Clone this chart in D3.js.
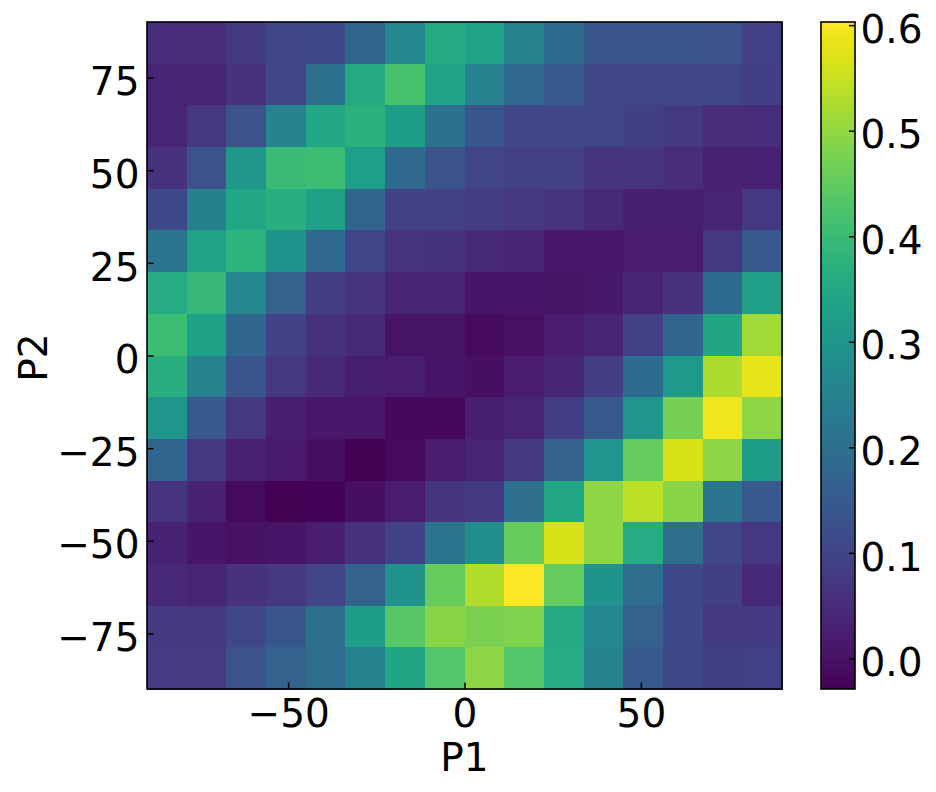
<!DOCTYPE html>
<html>
<head>
<meta charset="utf-8">
<script src="https://cdn.jsdelivr.net/npm/d3@7"></script>
<style>
  html, body { margin: 0; padding: 0; background: #fff; }
  svg { display: block; }
  text { font-family: "DejaVu Sans", sans-serif; fill: #000; }
</style>
</head>
<body>
<svg id="chart" width="936" height="792"></svg>
<script>
// Bin edges (P1 across, P2 up)
const p1Edges = [-90, -78.75, -67.5, -56.25, -45, -33.75, -22.5, -11.25, 0, 11.25, 22.5, 33.75, 45, 56.25, 67.5, 78.75, 90];
const p2Edges = [-90, -78.75, -67.5, -56.25, -45, -33.75, -22.5, -11.25, 0, 11.25, 22.5, 33.75, 45, 56.25, 67.5, 78.75, 90];

// Values: rows listed from top (P2 = 78.75..90) to bottom (P2 = -90..-78.75),
// columns from left (P1 = -90) to right (P1 = 90)
const values = [
  [0.050, 0.050, 0.075, 0.105, 0.110, 0.175, 0.265, 0.355, 0.335, 0.250, 0.190, 0.135, 0.135, 0.135, 0.130, 0.090],
  [0.035, 0.040, 0.060, 0.105, 0.205, 0.355, 0.420, 0.335, 0.250, 0.185, 0.150, 0.105, 0.105, 0.105, 0.100, 0.088],
  [0.035, 0.070, 0.130, 0.255, 0.350, 0.375, 0.320, 0.205, 0.140, 0.105, 0.105, 0.105, 0.088, 0.075, 0.050, 0.048],
  [0.060, 0.130, 0.305, 0.400, 0.405, 0.325, 0.185, 0.130, 0.097, 0.090, 0.090, 0.067, 0.067, 0.050, 0.028, 0.030],
  [0.110, 0.245, 0.350, 0.370, 0.330, 0.175, 0.095, 0.090, 0.085, 0.070, 0.066, 0.045, 0.023, 0.025, 0.035, 0.072],
  [0.220, 0.335, 0.380, 0.290, 0.185, 0.105, 0.065, 0.063, 0.045, 0.037, 0.010, 0.010, 0.018, 0.018, 0.070, 0.145],
  [0.360, 0.395, 0.260, 0.165, 0.085, 0.065, 0.035, 0.035, 0.008, 0.008, 0.003, 0.012, 0.035, 0.060, 0.190, 0.325],
  [0.405, 0.330, 0.180, 0.095, 0.060, 0.045, 0.003, 0.003, -0.010, -0.002, 0.022, 0.035, 0.090, 0.175, 0.345, 0.515],
  [0.370, 0.250, 0.135, 0.072, 0.045, 0.025, 0.018, 0.005, -0.005, 0.018, 0.040, 0.085, 0.190, 0.310, 0.525, 0.580],
  [0.300, 0.145, 0.070, 0.025, 0.010, 0.010, -0.015, -0.015, 0.025, 0.035, 0.085, 0.145, 0.300, 0.470, 0.590, 0.495],
  [0.175, 0.072, 0.030, 0.015, -0.005, -0.029, -0.012, 0.018, 0.035, 0.072, 0.165, 0.300, 0.450, 0.565, 0.495, 0.320],
  [0.067, 0.028, -0.012, -0.027, -0.025, -0.005, 0.020, 0.068, 0.075, 0.200, 0.350, 0.495, 0.540, 0.490, 0.220, 0.145],
  [0.032, 0.008, 0.000, 0.004, 0.025, 0.062, 0.095, 0.215, 0.280, 0.455, 0.565, 0.495, 0.360, 0.200, 0.105, 0.070],
  [0.045, 0.035, 0.060, 0.072, 0.097, 0.170, 0.295, 0.455, 0.530, 0.603, 0.450, 0.295, 0.195, 0.110, 0.088, 0.045],
  [0.078, 0.078, 0.105, 0.140, 0.200, 0.320, 0.440, 0.490, 0.475, 0.480, 0.355, 0.260, 0.165, 0.110, 0.075, 0.075],
  [0.080, 0.080, 0.130, 0.165, 0.195, 0.250, 0.345, 0.435, 0.495, 0.435, 0.360, 0.250, 0.145, 0.110, 0.088, 0.090]
];

const xTicks = [-50, 0, 50];
const yTicks = [-75, -50, -25, 0, 25, 50, 75];
const cbTicks = [0.0, 0.1, 0.2, 0.3, 0.4, 0.5, 0.6];
const xLabel = "P1";
const yLabel = "P2";

// ---- layout ----
const FS = 39;
const plot = { left: 147, right: 782, top: 22, bottom: 689 };
const cb = { left: 821, right: 855, top: 22, bottom: 689 };

const svg = d3.select("#chart");

const x = d3.scaleLinear().domain([p1Edges[0], p1Edges[p1Edges.length - 1]]).range([plot.left, plot.right]);
const y = d3.scaleLinear().domain([p2Edges[0], p2Edges[p2Edges.length - 1]]).range([plot.bottom, plot.top]);

const flat = values.flat();
const ext = d3.extent(flat);
const color = d3.scaleSequential(d3.interpolateViridis).domain(ext);

// cells
const nRows = values.length;
const cells = [];
values.forEach((row, ri) => {
  const j = nRows - 1 - ri; // index in p2Edges from bottom
  row.forEach((v, ci) => {
    cells.push({ x0: p1Edges[ci], x1: p1Edges[ci + 1], y0: p2Edges[j], y1: p2Edges[j + 1], v });
  });
});

svg.append("g")
  .attr("shape-rendering", "crispEdges")
  .selectAll("rect")
  .data(cells)
  .join("rect")
  .attr("x", d => x(d.x0))
  .attr("y", d => y(d.y1))
  .attr("width", d => x(d.x1) - x(d.x0) + 0.5)
  .attr("height", d => y(d.y0) - y(d.y1) + 0.5)
  .attr("fill", d => color(d.v));

// axes (inward ticks)
const xAxis = d3.axisBottom(x).tickValues(xTicks).tickSize(-6.5).tickPadding(10.5).tickFormat(d3.format("d"));
const gx = svg.append("g").attr("transform", `translate(0,${plot.bottom})`).call(xAxis);
gx.select(".domain").remove();
gx.selectAll(".tick line").attr("stroke", "#000").attr("stroke-width", 1.5);
gx.selectAll(".tick text").attr("font-size", FS).attr("font-family", "DejaVu Sans");

const yAxis = d3.axisLeft(y).tickValues(yTicks).tickSize(-6.5).tickPadding(7.5).tickFormat(d3.format("d"));
const gy = svg.append("g").attr("transform", `translate(${plot.left},0)`).call(yAxis);
gy.select(".domain").remove();
gy.selectAll(".tick line").attr("stroke", "#000").attr("stroke-width", 1.5);
gy.selectAll(".tick text").attr("font-size", FS).attr("font-family", "DejaVu Sans").attr("dy", "0.44em");

// frame
svg.append("rect")
  .attr("x", plot.left).attr("y", plot.top)
  .attr("width", plot.right - plot.left).attr("height", plot.bottom - plot.top)
  .attr("fill", "none").attr("stroke", "#000").attr("stroke-width", 1.6);

// axis labels
svg.append("text")
  .attr("x", (plot.left + plot.right) / 2).attr("y", 771)
  .attr("text-anchor", "middle").attr("font-size", FS)
  .text(xLabel);
svg.append("text")
  .attr("transform", `translate(47,${(plot.top + plot.bottom) / 2 + 2}) rotate(-90)`)
  .attr("text-anchor", "middle").attr("font-size", FS)
  .text(yLabel);

// colorbar
const defs = svg.append("defs");
const grad = defs.append("linearGradient").attr("id", "cbgrad")
  .attr("x1", 0).attr("y1", 1).attr("x2", 0).attr("y2", 0);
d3.range(0, 1.0001, 0.02).forEach(t => {
  grad.append("stop").attr("offset", t).attr("stop-color", d3.interpolateViridis(t));
});
svg.append("rect")
  .attr("x", cb.left).attr("y", cb.top)
  .attr("width", cb.right - cb.left).attr("height", cb.bottom - cb.top)
  .attr("fill", "url(#cbgrad)");

const cy = d3.scaleLinear().domain(ext).range([cb.bottom, cb.top]);
const cAxis = d3.axisRight(cy).tickValues(cbTicks).tickSize(-6).tickPadding(5.5).tickFormat(d3.format(".1f"));
const gc = svg.append("g").attr("transform", `translate(${cb.right},0)`).call(cAxis);
gc.select(".domain").remove();
gc.selectAll(".tick line").attr("stroke", "#000").attr("stroke-width", 1.5);
gc.selectAll(".tick text").attr("font-size", FS).attr("font-family", "DejaVu Sans").attr("dy", "0.44em");

svg.append("rect")
  .attr("x", cb.left).attr("y", cb.top)
  .attr("width", cb.right - cb.left).attr("height", cb.bottom - cb.top)
  .attr("fill", "none").attr("stroke", "#000").attr("stroke-width", 1.6);
</script>
</body>
</html>
